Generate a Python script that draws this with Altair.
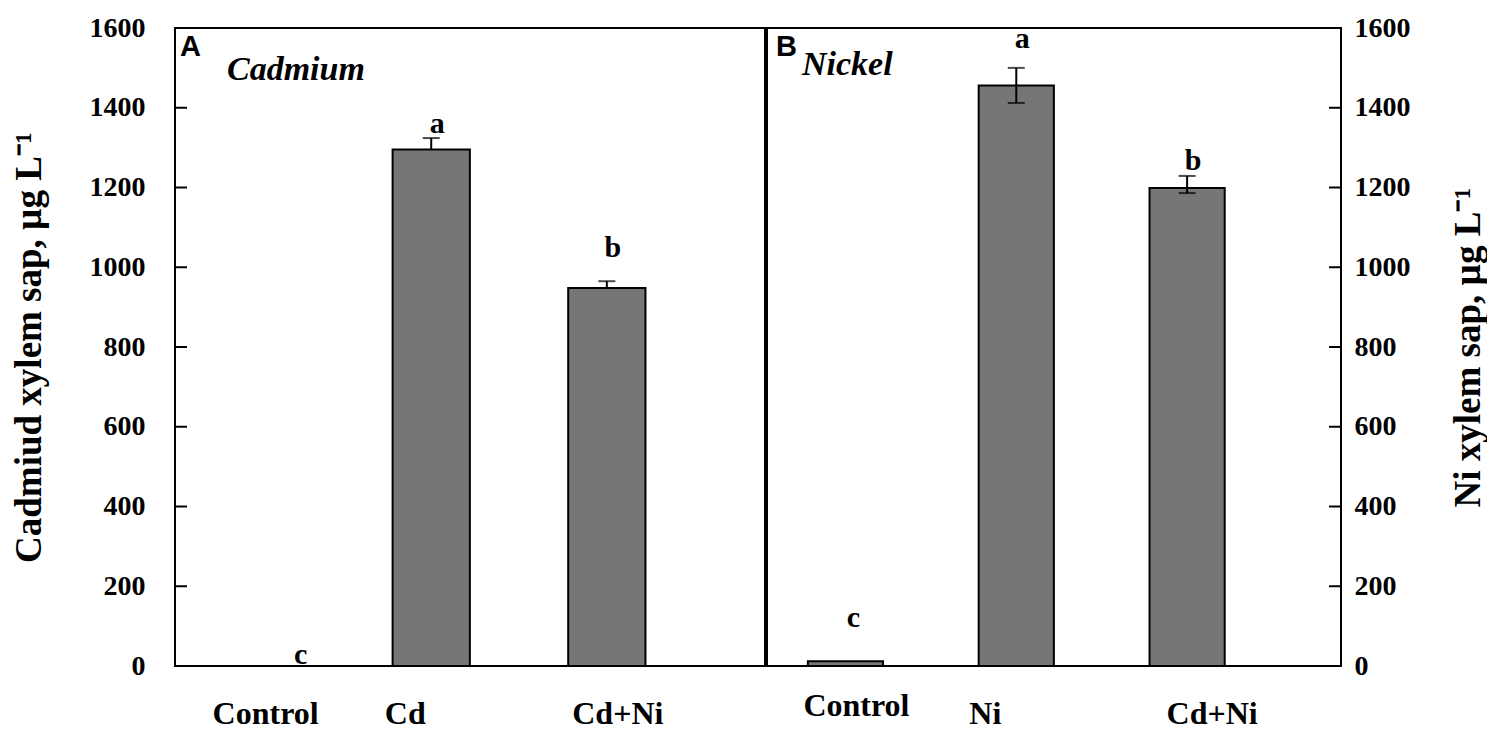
import altair as alt
import pandas as pd

# ---- data ----
cats_A = ["Control", "Cd", "Cd+Ni"]
cats_B = ["Control", "Ni", "Cd+Ni"]
means_A = [0, 1295, 948]
means_B = [12, 1456, 1199]
err_hi_A = [0, 1324, 965]
err_lo_A = [0, 1295, 948]
err_hi_B = [12, 1500, 1229]
err_lo_B = [12, 1412, 1186]
letters_A = ["c", "a", "b"]
letters_B = ["c", "a", "b"]
letter_at_A = [5, 1337, 1026]
letter_at_B = [98, 1550, 1244]
y_ticks = [0, 200, 400, 600, 800, 1000, 1200, 1400, 1600]

SERIF = "Liberation Serif"
SANS = "Liberation Sans"
H = 638
W_A = 590
W_B = 574
BAR_FILL = "#767676"


def make_df(panel, cats, means, hi, lo, letters, lat):
    return pd.DataFrame({
        "panel": panel,
        "cat": cats,
        "mean": means,
        "hi": hi,
        "lo": lo,
        "letter": letters,
        "lat": lat,
    })


df_A = make_df("A", cats_A, means_A, err_hi_A, err_lo_A, letters_A, letter_at_A)
df_B = make_df("B", cats_B, means_B, err_hi_B, err_lo_B, letters_B, letter_at_B)
ticks_df = pd.DataFrame({"tick": y_ticks})


def panel(df, cats, width, side, ytitle, plabel, ptitle, title_dx, label_dx, label_dy, letter_dx):
    yscale = alt.Scale(domain=[0, 1600], nice=False, zero=True)
    xenc = alt.X("cat:N", sort=cats, axis=None,
                 scale=alt.Scale(paddingInner=0.56, paddingOuter=0.46, align=0.26))
    base = alt.Chart(df)

    axis_kw = dict(
        orient=side, values=y_ticks, format="d", ticks=False, domain=False, grid=False,
        labelFont=SERIF, labelFontWeight="bold", labelFontSize=28, labelColor="black",
        labelPadding=30 if side == "left" else 13,
        title=ytitle, titleFont=SERIF, titleFontWeight="bold", titleFontSize=37,
        titleColor="black", titleAngle=270,
        titlePadding=41 if side == "left" else 40,
    )
    if side == "right":
        axis_kw["titleBaseline"] = "top"
    yaxis = alt.Axis(**axis_kw)

    def Y(field):
        return alt.Y(field, scale=yscale, axis=yaxis, title=ytitle)

    bars = base.transform_filter("datum.mean > 0").mark_bar(
        fill=BAR_FILL, stroke="black", strokeWidth=2
    ).encode(x=xenc, y=Y("mean:Q"))

    err = base.transform_filter("datum.hi > datum.lo").mark_rule(
        color="black", strokeWidth=2
    ).encode(x=xenc, y=Y("lo:Q"), y2="hi:Q")

    cap_hi = base.transform_filter("datum.hi > datum.mean").mark_tick(
        color="black", thickness=2, size=17
    ).encode(x=xenc, y=Y("hi:Q"))

    cap_lo = base.transform_filter("datum.lo < datum.mean").mark_tick(
        color="black", thickness=2, size=17
    ).encode(x=xenc, y=Y("lo:Q"))

    letters = base.mark_text(
        font=SERIF, fontWeight="bold", fontSize=30, color="black",
        baseline="alphabetic", align="center", dx=alt.expr(letter_dx)
    ).encode(x=xenc, y=Y("lat:Q"), text="letter:N")

    xlabels = base.mark_text(
        font=SERIF, fontWeight="bold", fontSize=32, color="black",
        baseline="middle", align="center", dx=alt.expr(label_dx), dy=alt.expr(label_dy)
    ).encode(x=xenc, y=alt.value(H + 48), text="cat:N")

    if side == "left":
        tx, tx2 = 0, 12
    else:
        tx, tx2 = width - 12, width
    inner_ticks = alt.Chart(ticks_df).mark_rule(color="black", strokeWidth=2).encode(
        y=Y("tick:Q"),
        x=alt.value(tx), x2=alt.value(tx2),
    )

    plab = alt.Chart(ticks_df).transform_filter("datum.tick == 0").mark_text(
        font=SANS, fontWeight="bold", fontSize=29, color="black",
        align="left", baseline="top", text=plabel
    ).encode(x=alt.value(5 if side == "left" else 9), y=alt.value(5))

    ptit = alt.Chart(ticks_df).transform_filter("datum.tick == 0").mark_text(
        font=SERIF, fontWeight="bold", fontStyle="italic", fontSize=34, color="black",
        align="left", baseline="alphabetic", text=ptitle
    ).encode(x=alt.value(title_dx), y=alt.value(52 if side == "left" else 47))

    return alt.layer(bars, err, cap_hi, cap_lo, letters, xlabels, inner_ticks, plab, ptit).properties(
        width=width, height=H
    )


left = panel(
    df_A, cats_A, W_A, "left", "Cadmiud xylem sap, µg L⁻¹", "A", "Cadmium", 52,
    "datum.cat == 'Control' ? 10 : datum.cat == 'Cd' ? -26 : 11",
    "0",
    "datum.cat == 'Control' ? 45 : 6",
)
right = panel(
    df_B, cats_B, W_B, "right", "Ni xylem sap, µg L⁻¹", "B", "Nickel", 35,
    "datum.cat == 'Control' ? 11 : datum.cat == 'Ni' ? -31 : 25",
    "datum.cat == 'Control' ? -8 : 0",
    "datum.cat == 'Control' ? 8 : 6",
)

chart = alt.hconcat(left, right, spacing=0).configure_view(
    stroke="black", strokeWidth=2
).properties(
    background="white",
    padding={"left": 0, "top": 5, "right": 0, "bottom": 5},
)

chart.save("out.html", embed_options={"renderer": "svg", "actions": False})
